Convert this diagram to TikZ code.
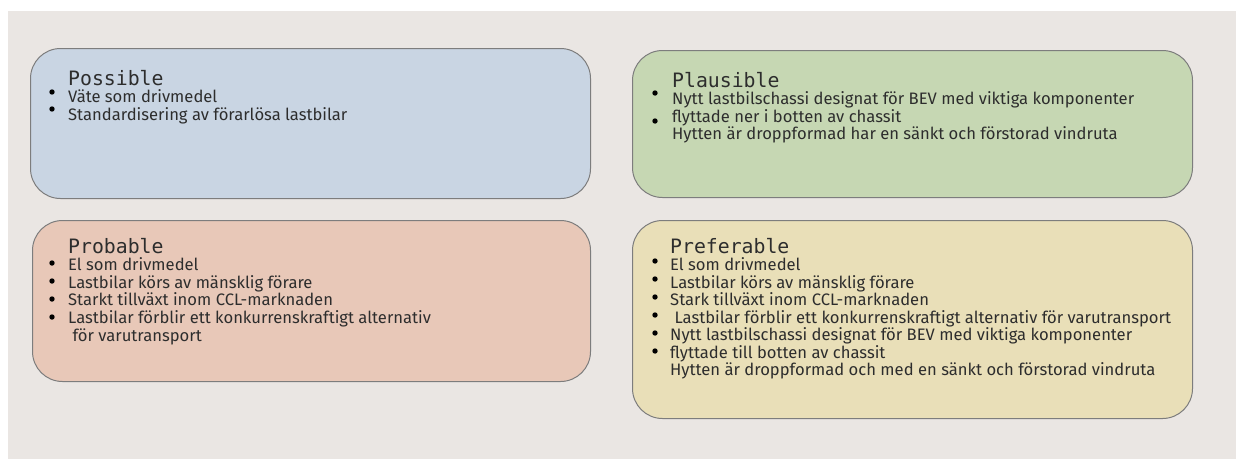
\documentclass[tikz,border=0pt]{standalone}
\usepackage{fontspec}
\setmainfont{Fira Sans}
\newfontfamily\titlefont{DejaVu Sans Mono}
\usetikzlibrary{positioning}
\definecolor{panelbg}{RGB}{234,230,227}
\definecolor{possfill}{RGB}{201,213,227}
\definecolor{plausfill}{RGB}{198,215,179}
\definecolor{probfill}{RGB}{232,200,184}
\definecolor{preffill}{RGB}{233,223,184}
\definecolor{edgegray}{RGB}{125,125,125}
\definecolor{inkgray}{RGB}{45,45,45}

\begin{document}
\begin{tikzpicture}[
  x=1pt, y=-1pt,
  card/.style={draw=edgegray, line width=1pt, rounded corners=30pt,
               anchor=north west, inner sep=0pt},
  title/.style={anchor=base west, inner sep=0pt, font=\titlefont\fontsize{19.8}{20}\selectfont, text=inkgray},
  item/.style={anchor=base west, inner sep=0pt, font=\fontsize{16.6}{18}\selectfont, text=inkgray},
  dot/.style={fill=black}
]
\useasboundingbox (0,0) rectangle (1236,459);
\fill[panelbg] (8,11) rectangle (1236,459);

% the four cards
\node[card, fill=possfill, minimum width=560pt, minimum height=150pt] (possible) at (30,48) {};
\node[card, fill=plausfill, minimum width=560pt, minimum height=147pt] (plausible) at (632,50) {};
\node[card, fill=probfill, minimum width=558pt, minimum height=161pt] (probable) at (32,220) {};
\node[card, fill=preffill, minimum width=560pt, minimum height=198pt] (preferable) at (632,220) {};

% Possible
\node[title] (possT) at (68,85) {Possible};
\foreach \t [count=\i] in {Väte som drivmedel, Standardisering av förarlösa lastbilar}
  \node[item] (poss-\i) at (68,85+17.5*\i) {\t};
\foreach \y in {92,109} \fill[dot] (52,\y) circle (2.7);

% Plausible
\node[title] (plausT) at (672,87) {Plausible};
\foreach \t [count=\i] in {Nytt lastbilschassi designat för BEV med viktiga komponenter,
    flyttade ner i botten av chassit, Hytten är droppformad har en sänkt och förstorad vindruta}
  \node[item] (plaus-\i) at (672,87+17.5*\i) {\t};
\foreach \y in {93,121} \fill[dot] (655,\y) circle (2.7);

% Probable
\node[title] (probT) at (68,253) {Probable};
\foreach \t [count=\i] in {El som drivmedel, Lastbilar körs av mänsklig förare,
    Starkt tillväxt inom CCL-marknaden, Lastbilar förblir ett konkurrenskraftigt alternativ,
    \ för varutransport}
  \node[item] (prob-\i) at (68,253+17.6*\i) {\t};
\foreach \y in {263,281,299,317} \fill[dot] (52,\y) circle (2.7);

% Preferable
\node[title] (prefT) at (670,253) {Preferable};
\foreach \t [count=\i] in {El som drivmedel, Lastbilar körs av mänsklig förare,
    Stark tillväxt inom CCL-marknaden, \ Lastbilar förblir ett konkurrenskraftigt alternativ för varutransport,
    Nytt lastbilschassi designat för BEV med viktiga komponenter, flyttade till botten av chassit,
    Hytten är droppformad och med en sänkt och förstorad vindruta}
  \node[item] (pref-\i) at (670,253+17.5*\i) {\t};
\foreach \y in {261,279,297,315,333,351} \fill[dot] (655,\y) circle (2.7);
\end{tikzpicture}
\end{document}
